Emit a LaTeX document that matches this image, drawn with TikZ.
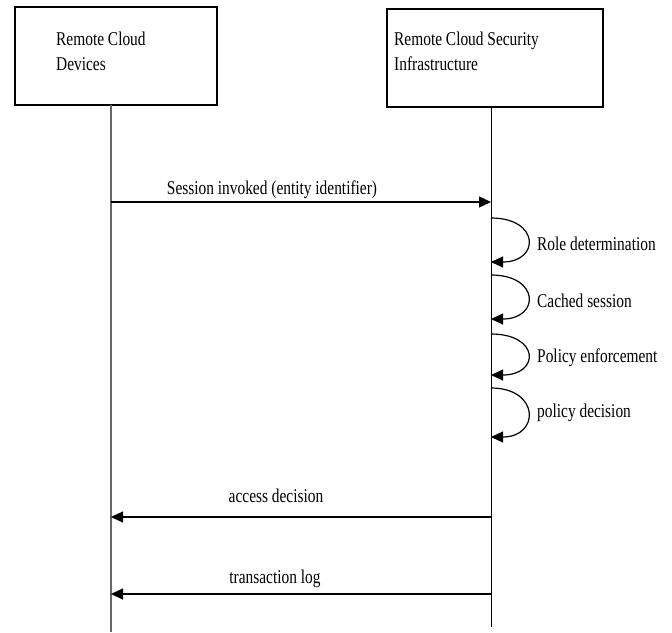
\documentclass[tikz,border=0pt]{standalone}
\usepackage{fontspec}
\setmainfont{Liberation Serif}[FakeStretch=0.79]
\usetikzlibrary{arrows.meta}
\begin{document}
\begin{tikzpicture}[x=1pt,y=-1pt,
  actorbox/.style={draw=black,line width=2.4pt,rectangle,inner sep=0pt},
  actortext/.style={anchor=base west,align=left,font=\fontsize{19.5}{25}\selectfont,inner sep=0pt},
  msgtext/.style={anchor=base,font=\fontsize{19.5}{25}\selectfont,inner sep=0pt},
  selftext/.style={anchor=base west,font=\fontsize{19.5}{25}\selectfont,inner sep=0pt},
  lifeline/.style={line width=1.3pt},
  msg/.style={line width=1.3pt,-{Triangle[length=12pt,width=11pt]}},
]
\useasboundingbox (0,0) rectangle (672,632);

% participants
\node[actorbox,minimum width=202pt,minimum height=98pt] (devbox) at (116,56) {};
\node[actorbox,minimum width=216pt,minimum height=98pt] (secbox) at (495,58) {};
% the base anchor of a two-line node sits on its last line
\node[actortext] (devtext) at (56,70) {Remote Cloud\\Devices};
\node[actortext] (sectext) at (394,70) {Remote Cloud Security\\Infrastructure};

% lifelines
\coordinate (devtop) at (111,105);
\coordinate (devend) at (111,632);
\coordinate (sectop) at (491,107);
\coordinate (secend) at (491,627);
\draw[lifeline,draw=black!60] (devtop) -- (devend);
\draw[lifeline,line width=1pt] (sectop) -- (secend);

% session request
\coordinate (m1a) at (111,202);
\coordinate (m1b) at (491,202);
\draw[msg] (m1a) -- (m1b);
\node[msgtext] (m1t) at (272,194) {Session invoked (entity identifier)};

% self calls on the security infrastructure
\foreach \i/\ya/\yb/\yt/\txt in {
  1/218/262/250/Role determination,
  2/275/319/307/Cached session,
  3/334/375/362/Policy enforcement,
  4/388/437/417/policy decision}{
  \coordinate (s\i a) at (491,\ya);
  \coordinate (s\i b) at (491,\yb);
  \draw[msg,line width=1.2pt] (s\i a) .. controls (540,\ya) and (540,\yb) .. (s\i b);
  \node[selftext] (s\i t) at (537,\yt) {\txt};
}

% replies
\coordinate (r1a) at (491,517);
\coordinate (r1b) at (111,517);
\draw[msg] (r1a) -- (r1b);
\node[msgtext] (r1t) at (276,502) {access decision};

\coordinate (r2a) at (491,594);
\coordinate (r2b) at (111,594);
\draw[msg] (r2a) -- (r2b);
\node[msgtext] (r2t) at (275,583) {transaction log};
\end{tikzpicture}
\end{document}
